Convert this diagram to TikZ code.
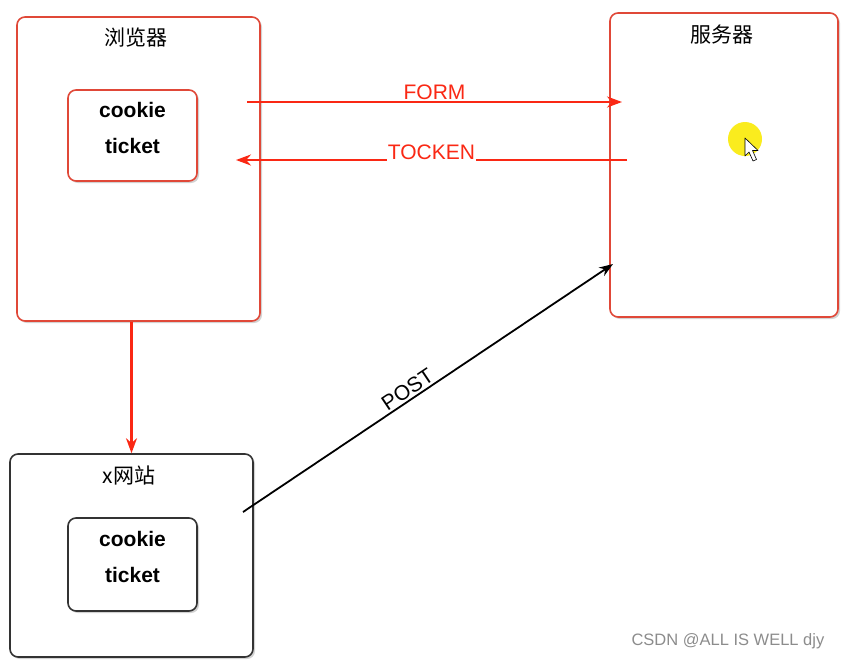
\documentclass[tikz,border=0pt]{standalone}
\usepackage{fontspec}
\setmainfont{Liberation Sans}
\newfontfamily\cjk{Noto Sans CJK SC}
\usetikzlibrary{positioning,shadows,arrows.meta}
\definecolor{boxred}{RGB}{224,72,56}
\definecolor{linered}{RGB}{250,40,20}
\definecolor{spotyellow}{RGB}{250,236,30}

\begin{document}
\begin{tikzpicture}[x=1pt,y=-1pt,
  outer/.style={draw, line width=1.6pt, rounded corners=8pt, fill=white,
    drop shadow={opacity=0.35,shadow xshift=2pt,shadow yshift=-2pt}},
  inner/.style={outer, align=center, text depth=15pt,
    font=\fontsize{21}{36}\selectfont\bfseries},
  title/.style={font=\cjk\fontsize{21}{24}\selectfont},
  redline/.style={draw=linered, line width=2.2pt, -{Stealth[length=15pt,width=11pt]}},
  blackline/.style={draw=black, line width=1.8pt, -{Stealth[length=14pt,width=10pt]}},
  tag/.style={font=\fontsize{21}{24}\selectfont, fill=white, inner sep=1pt}]
\useasboundingbox (0,0) rectangle (851,662);

\node [outer, draw=boxred, minimum width=243pt, minimum height=304pt] (browser) at (138.5,169) {};
\node [title] (browserT) at (136,38) {浏览器};
\node [inner, draw=boxred, minimum width=129pt, minimum height=91pt] (bcookie) at (132.5,135.5) {cookie\\ticket};

\node [outer, draw=boxred, minimum width=228pt, minimum height=304pt] (server) at (724,165) {};
\node [title] (serverT) at (722,35) {服务器};

\node [outer, draw=black!80, minimum width=243pt, minimum height=203pt] (xsite) at (131.5,555.5) {};
\node [title] (xsiteT) at (129,475) {x网站};
\node [inner, draw=black!80, minimum width=129pt, minimum height=93pt] (xcookie) at (132.5,564.5) {cookie\\ticket};

\coordinate (formA) at (247,102);
\coordinate (formB) at (622,102);
\coordinate (tockA) at (627,160);
\coordinate (tockB) at (236,160);
\coordinate (postA) at (243,512);
\coordinate (postB) at (613,264);

\draw [redline] (formA) -- node [tag, above=0pt, text=linered] (formL) {FORM} (formB);
\draw [redline] (tockA) -- node [tag, above=-2pt, text=linered] (tockL) {TOCKEN} (tockB);
\draw [redline] (browser.south -| xsite.north) -- (xsite.north);
\draw [blackline] (postA) -- node [tag, sloped, above=1pt, pos=0.46] (postL) {POST} (postB);

% mouse pointer
\node [circle, fill=spotyellow, minimum size=34pt, inner sep=0pt] (spot) at (745,139) {};
\draw [fill=white, line width=0.6pt, line join=round]
  (745,138) -- (745,156) -- (749,152) -- (753,161) -- (756.5,159.5) -- (752.5,150.5) -- (758,150.5) -- cycle;

\node [text=black!45, font=\fontsize{16.5}{18}\selectfont, anchor=west] (mark) at (628,641) {CSDN @ALL IS WELL djy};
\end{tikzpicture}
\end{document}
